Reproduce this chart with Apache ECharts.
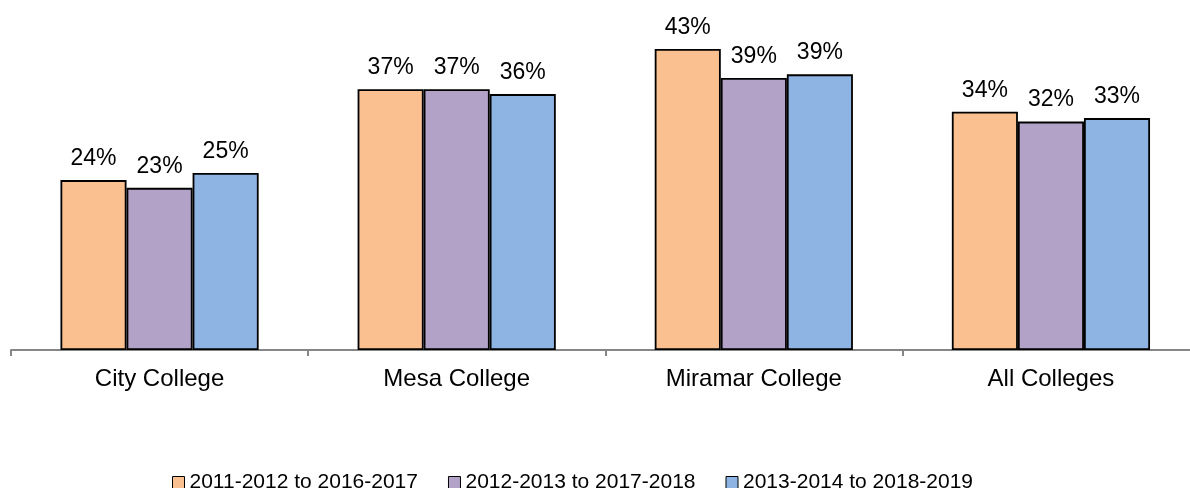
<!DOCTYPE html>
<html>
<head>
<meta charset="utf-8">
<title>Colleges</title>
<script src="https://cdn.jsdelivr.net/npm/echarts@6/dist/echarts.min.js"></script>
<style>
  html, body { margin: 0; padding: 0; background: #fff; }
  #chart { width: 1190px; height: 488px; }
</style>
</head>
<body>
<div id="chart"></div>
<script>
  // categories and series
  var colleges = ['City College', 'Mesa College', 'Miramar College', 'All Colleges'];
  var cohortNames = ['2011-2012 to 2016-2017', '2012-2013 to 2017-2018', '2013-2014 to 2018-2019'];
  var cohort1 = [24.1, 37.0, 42.7, 33.8];
  var cohort2 = [23.0, 37.0, 38.6, 32.4];
  var cohort3 = [25.1, 36.3, 39.1, 32.9];
  var barColors = ['#FAC090', '#B3A2C7', '#8EB4E3'];

  var chart = echarts.init(document.getElementById('chart'));

  function makeSeries(name, values, color) {
    return {
      name: name,
      type: 'bar',
      data: values,
      barGap: '0%',
      barCategoryGap: '33.3%',
      itemStyle: { color: color, borderColor: '#000', borderWidth: 1.8 },
      label: {
        show: true,
        position: 'top',
        distance: 10,
        color: '#000',
        fontSize: 23,
        fontFamily: 'Liberation Sans, Arial, sans-serif',
        formatter: function (p) { return Math.round(p.value) + '%'; }
      },
      emphasis: { disabled: true }
    };
  }

  chart.setOption({
    animation: false,
    backgroundColor: '#fff',
    grid: { left: 11, top: 0, right: -9.5, bottom: 138, containLabel: false, outerBoundsMode: 'none' },
    legend: {
      left: 167,
      top: 467,
      icon: 'rect',
      itemWidth: 12,
      itemHeight: 12,
      itemGap: 30,
      itemStyle: { borderColor: '#000', borderWidth: 1 },
      textStyle: { fontSize: 21, color: '#000', fontFamily: 'Liberation Sans, Arial, sans-serif' },
      data: cohortNames
    },
    xAxis: {
      type: 'category',
      data: colleges,
      axisLine: { lineStyle: { color: '#868686', width: 2 } },
      axisTick: { show: true, length: 6, lineStyle: { color: '#868686', width: 2 } },
      axisLabel: { margin: 17, fontSize: 24, color: '#000', fontFamily: 'Liberation Sans, Arial, sans-serif' }
    },
    yAxis: {
      type: 'value',
      min: 0,
      max: 49.65,
      show: false,
      splitLine: { show: false }
    },
    series: [
      makeSeries(cohortNames[0], cohort1, barColors[0]),
      makeSeries(cohortNames[1], cohort2, barColors[1]),
      makeSeries(cohortNames[2], cohort3, barColors[2])
    ]
  });
</script>
</body>
</html>
